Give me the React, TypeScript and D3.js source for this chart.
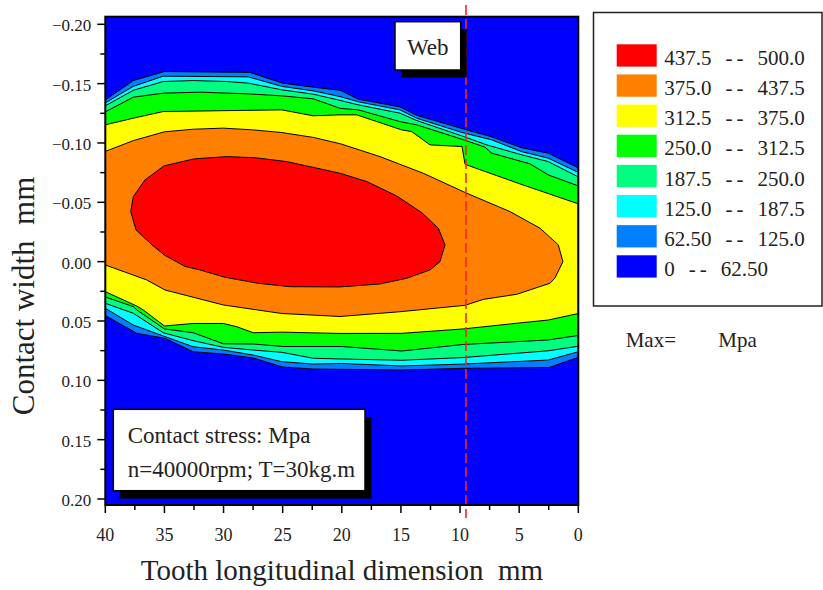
import React from 'react';
import * as d3 from 'd3';

// stress levels (Mpa) and band fills, lowest first
const levels = [0, 62.5, 125, 187.5, 250, 312.5, 375, 437.5];
const bandColors = ['#0000ff', '#0080ff', '#00ffff', '#00ff80', '#00ff00', '#ffff00', '#ff8000', '#ff0000'];
const legendRanges = [
  ['437.5', '500.0'],
  ['375.0', '437.5'],
  ['312.5', '375.0'],
  ['250.0', '312.5'],
  ['187.5', '250.0'],
  ['125.0', '187.5'],
  ['62.50', '125.0'],
  ['0', '62.50'],
];

const xTicks = [40, 35, 30, 25, 20, 15, 10, 5, 0];
const yTicks = [-0.2, -0.15, -0.1, -0.05, 0, 0.05, 0.1, 0.15, 0.2];
const webPosition = 9.5;

// contour lines, [longitudinal mm, width mm]
const top62 = [[40, -0.1363], [37.63, -0.1526], [35.0, -0.1602], [27.8, -0.1595], [25.0, -0.1504], [22.4, -0.147], [20.15, -0.1444], [18.6, -0.1369], [15.08, -0.1304], [13.67, -0.1233], [9.75, -0.1119], [7.4, -0.1054], [4.79, -0.096], [2.54, -0.0914], [0, -0.079]];
const bot62 = [[40, 0.0454], [37.34, 0.0604], [34.95, 0.0646], [32.56, 0.0759], [30.02, 0.0778], [27.48, 0.0812], [25.0, 0.0888], [22.41, 0.0905], [20.15, 0.0907], [14.93, 0.0913], [9.75, 0.0899], [2.48, 0.0892], [0, 0.0806]];

const top125 = [[40, -0.1338], [37.63, -0.1477], [35.1, -0.1563], [27.91, -0.1557], [25.08, -0.1477], [22.41, -0.1439], [20.15, -0.1391], [18.6, -0.1347], [15.08, -0.1279], [13.67, -0.1209], [9.83, -0.1088], [7.32, -0.1026], [4.79, -0.0927], [2.54, -0.0872], [0, -0.0752]];
const bot125 = [[40, 0.0393], [37.63, 0.0534], [35.1, 0.0626], [32.56, 0.0717], [30.02, 0.0745], [27.48, 0.0787], [25.08, 0.0843], [22.41, 0.0863], [20.01, 0.0858], [14.93, 0.0879], [9.75, 0.0863], [2.54, 0.0829], [0, 0.0759]];

const top187 = [[40, -0.1313], [37.63, -0.1444], [35.1, -0.1518], [32.56, -0.1526], [29.73, -0.1518], [27.91, -0.1504], [25.08, -0.1448], [22.41, -0.1411], [20.15, -0.1359], [18.6, -0.1321], [15.08, -0.1251], [13.67, -0.1189], [9.86, -0.106], [7.75, -0.0984], [4.79, -0.09], [2.54, -0.0843], [0, -0.0714]];
const bot187 = [[40, 0.0351], [37.63, 0.0435], [35.1, 0.0599], [32.56, 0.0666], [30.02, 0.0722], [27.48, 0.0745], [25.08, 0.0764], [22.41, 0.0814], [20.15, 0.082], [14.93, 0.0831], [9.75, 0.0808], [2.54, 0.0751], [0, 0.0713]];

const top250 = [[40, -0.1262], [37.63, -0.1386], [35.1, -0.142], [31.99, -0.1428], [27.91, -0.1414], [25.08, -0.1397], [22.41, -0.1372], [20.15, -0.1292], [18.6, -0.1279], [15.08, -0.118], [13.67, -0.1153], [9.86, -0.1032], [7.89, -0.0965], [7.32, -0.0914], [4.08, -0.0824], [2.54, -0.0731], [0, -0.0638]];
const bot250 = [[40, 0.0298], [37.63, 0.0379], [37.34, 0.0407], [35.0, 0.0567], [32.56, 0.0599], [30.02, 0.0692], [27.48, 0.0694], [24.95, 0.0715], [20.01, 0.0715], [14.93, 0.0753], [9.75, 0.0698], [2.54, 0.066], [0, 0.0622]];

const top312 = [[40, -0.1153], [37.63, -0.1209], [35.1, -0.1265], [25.08, -0.1279], [22.41, -0.1229], [20.15, -0.1237], [18.74, -0.1237], [14.93, -0.111], [14.09, -0.1096], [12.54, -0.0984], [9.83, -0.097], [9.58, -0.082], [4.93, -0.0655], [0, -0.0487]];
const bot312 = [[40, 0.0253], [37.34, 0.0374], [36.79, 0.0407], [35.0, 0.0542], [32.56, 0.0521], [30.02, 0.0521], [28.89, 0.0548], [27.48, 0.0599], [25.06, 0.0594], [20.15, 0.0605], [14.93, 0.0604], [9.75, 0.0567], [5.21, 0.0519], [2.54, 0.0492], [0, 0.0437]];

// open on the left edge, closes near x = 1.3 mm
const ring375 = [[40, -0.0929], [37.63, -0.102], [35.0, -0.1094], [32.56, -0.1116], [30.02, -0.1125], [27.48, -0.111], [25.08, -0.1088], [22.41, -0.1047], [20.07, -0.0992], [16.77, -0.0885], [13.11, -0.0745], [9.58, -0.0583], [5.78, -0.0422], [3.24, -0.0282], [1.69, -0.0141], [1.3, 0], [1.97, 0.0137], [2.39, 0.0182], [5.21, 0.0275], [8.03, 0.0318], [9.58, 0.0368], [15.08, 0.0422], [20.15, 0.0462], [25.08, 0.0437], [30.02, 0.0365], [34.95, 0.0239], [36.5, 0.0154], [40, 0.0028]];

// closed core
const ring437 = [[37.85, -0.0422], [37.63, -0.0548], [36.64, -0.0689], [35.04, -0.0807], [32.5, -0.0866], [29.73, -0.0885], [27.34, -0.0876], [24.66, -0.0843], [22.12, -0.0788], [20.15, -0.0745], [17.89, -0.0675], [15.36, -0.0554], [13.24, -0.0413], [11.84, -0.0282], [11.27, -0.0141], [11.7, 0], [12.54, 0.007], [14.51, 0.014], [16.77, 0.0188], [20.15, 0.0213], [24.38, 0.0211], [27.1, 0.0182], [29.86, 0.0132], [32.0, 0.007], [33.26, 0.004], [34.95, -0.0052], [36.05, -0.0141], [37.4, -0.0267]];

const regions = [
  top62.concat(bot62.slice().reverse()),
  top125.concat(bot125.slice().reverse()),
  top187.concat(bot187.slice().reverse()),
  top250.concat(bot250.slice().reverse()),
  top312.concat(bot312.slice().reverse()),
  ring375,
  ring437,
];

const font = "'Liberation Serif', 'Times New Roman', serif";

export default function App() {
  const left = 105.3, right = 578.3, top = 16.7, bottom = 505;

  const x = d3.scaleLinear().domain([40, 0]).range([left, right]);
  const y = d3.scaleLinear().domain([-0.2, 0.2]).range([24.3, 499]);
  const line = d3.line<number[]>().x(d => x(d[0])).y(d => y(d[1]));
  const fmt = d3.format('.2f');

  const xMinor = d3.range(37.5, 0, -5);
  const yMinor = d3.range(-0.175, 0.2, 0.05);

  return (
    <svg width={823} height={590} style={{ position: 'absolute', left: 0, top: 0 }} fontFamily={font}>
      <defs>
        <clipPath id="plot">
          <rect x={left} y={top} width={right - left} height={bottom - top} />
        </clipPath>
      </defs>
      <rect width={823} height={590} fill="#fff" />

      <g clipPath="url(#plot)">
        <rect x={left} y={top} width={right - left} height={bottom - top} fill={bandColors[0]} />
        {regions.map((pts, i) => (
          <path key={i} d={line(pts) + 'Z'} fill={bandColors[i + 1]} stroke="#000" strokeWidth={1} strokeLinejoin="round" />
        ))}
      </g>

      <line x1={x(webPosition)} x2={x(webPosition)} y1={5} y2={518} stroke="#ff2020" strokeWidth={1.6} strokeDasharray="10 4" />

      <rect x={left} y={top} width={right - left} height={bottom - top} fill="none" stroke="#000" strokeWidth={2} />

      {/* y axis */}
      <g>
        {yTicks.map(t => (
          <g key={t}>
            <line x1={left - 8} x2={left} y1={y(t)} y2={y(t)} stroke="#000" strokeWidth={1.5} />
            <text x={left - 14} y={y(t) + 7} textAnchor="end" fontSize={17} fill="#222">{fmt(t)}</text>
          </g>
        ))}
        {yMinor.map(t => (
          <line key={t} x1={left - 5} x2={left} y1={y(t)} y2={y(t)} stroke="#000" strokeWidth={1.5} />
        ))}
        <text transform={`translate(34,296) rotate(-90)`} textAnchor="middle" fontSize={31} fill="#222" style={{ whiteSpace: 'pre' }}>Contact width  mm</text>
      </g>

      {/* x axis */}
      <g>
        {xTicks.map(t => (
          <g key={t}>
            <line x1={x(t)} x2={x(t)} y1={bottom} y2={bottom + 8} stroke="#000" strokeWidth={1.5} />
            <text x={x(t)} y={541} textAnchor="middle" fontSize={18} fill="#222">{t}</text>
          </g>
        ))}
        {xMinor.map(t => (
          <line key={t} x1={x(t)} x2={x(t)} y1={bottom} y2={bottom + 5} stroke="#000" strokeWidth={1.5} />
        ))}
        <text x={342} y={580} textAnchor="middle" fontSize={29} fill="#222" style={{ whiteSpace: 'pre' }}>Tooth longitudinal dimension  mm</text>
      </g>

      {/* Web label */}
      <rect x={401} y={29.2} width={65.7} height={48.3} fill="#000" />
      <rect x={395} y={21.7} width={65.7} height={48.3} fill="#fff" stroke="#000" strokeWidth={1.5} />
      <text x={427.8} y={55} textAnchor="middle" fontSize={23} fill="#222">Web</text>

      {/* condition label */}
      <rect x={119.7} y={417.3} width={251.7} height={81.4} fill="#000" />
      <rect x={113.3} y={409.3} width={251.7} height={81.4} fill="#fff" stroke="#000" strokeWidth={1.5} />
      <text x={127.7} y={443} fontSize={23} fill="#222">Contact stress: Mpa</text>
      <text x={127.7} y={476.7} fontSize={23} fill="#222">n=40000rpm; T=30kg.m</text>

      {/* legend */}
      <rect x={593.5} y={12.5} width={228.5} height={293.5} fill="#fff" stroke="#222" strokeWidth={1.5} />
      {legendRanges.map((r, i) => {
        const yy = 44.3 + i * 30.14;
        return (
          <g key={i}>
            <rect x={616.7} y={yy} width={40} height={22.3} fill={bandColors[bandColors.length - 1 - i]} />
            <text x={664.3} y={yy + 20.7} fontSize={21} fill="#222">
              {r[0]}
              <tspan dx={14} letterSpacing={4}>--</tspan>
              <tspan dx={10}>{r[1]}</tspan>
            </text>
          </g>
        );
      })}
      <text x={625.7} y={346.7} fontSize={21} fill="#222">Max=</text>
      <text x={718.3} y={346.7} fontSize={21} fill="#222">Mpa</text>
    </svg>
  );
}
